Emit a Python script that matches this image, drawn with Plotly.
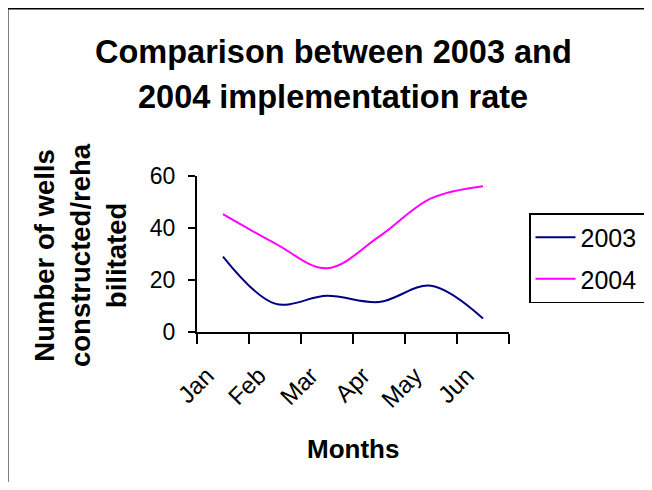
import plotly.graph_objects as go

months = ["Jan", "Feb", "Mar", "Apr", "May", "Jun"]
values_2003 = [29, 10.9, 13.9, 11.5, 17.8, 5.2]
values_2004 = [45.3, 34.1, 24.5, 36.7, 51.4, 56.1]
y_ticks = [0, 20, 40, 60]

W, H = 644, 474
OFF = 8  # page body margin
L, R, T, B = 197 - OFF, 509 - OFF, 176 - OFF, 332 - OFF  # plot area in figure px
pw, ph = R - L, B - T

def px_x(x):
    return (x - OFF - L) / pw

def px_y(y):
    return (B - (y - OFF)) / ph

FONT = "Liberation Sans, Arial, sans-serif"

fig = go.Figure()
fig.add_trace(go.Scatter(x=months, y=values_2003, name="2003\u00a0", mode="lines",
                         line=dict(color="#000080", width=2, shape="spline", smoothing=1),
                         legendgroup="a"))
fig.add_trace(go.Scatter(x=months, y=values_2004, name="2004\u00a0", mode="lines",
                         line=dict(color="#FF00FF", width=2, shape="spline", smoothing=1),
                         legendgroup="b"))

fig.update_layout(
    width=W, height=H,
    margin=dict(l=L, r=W - R, t=T, b=H - B, autoexpand=False),
    paper_bgcolor="white", plot_bgcolor="white",
    font=dict(family=FONT, color="black"),
    showlegend=True,
    legend=dict(x=px_x(529), y=px_y(213), xanchor="left", yanchor="top",
                bordercolor="black", borderwidth=1.5, bgcolor="white",
                font=dict(size=25, family=FONT, color="black"),
                tracegroupgap=6, traceorder="grouped", itemwidth=40),
    xaxis=dict(type="category", range=[-0.5, 5.5], showline=True, linecolor="black",
               linewidth=2, ticks="outside", tickson="boundaries", ticklen=10,
               tickwidth=2, tickcolor="black", tickangle=-45, showgrid=False,
               zeroline=False, ticklabelshift=-16, ticklabelstandoff=18,
               tickfont=dict(size=24, family=FONT, color="black")),
    yaxis=dict(range=[0, 60], tickvals=y_ticks, showline=True, linecolor="black",
               linewidth=2, ticks="outside", ticklen=7, tickwidth=2, tickcolor="black",
               showgrid=False, zeroline=False, ticklabelstandoff=8,
               tickfont=dict(size=23, family=FONT, color="black")),
    annotations=[
        dict(text="<b>Comparison between 2003 and</b>", xref="paper", yref="paper",
             x=px_x(333), y=px_y(52), xanchor="center", yanchor="middle",
             showarrow=False, font=dict(size=32.5, family=FONT, color="black")),
        dict(text="<b>2004 implementation rate</b>", xref="paper", yref="paper",
             x=px_x(333), y=px_y(97), xanchor="center", yanchor="middle",
             showarrow=False, font=dict(size=32.5, family=FONT, color="black")),
        dict(text="<b>Number of wells<br>constructed/reha<br>bilitated</b>",
             xref="paper", yref="paper", x=px_x(80), y=px_y(255),
             xanchor="center", yanchor="middle", textangle=-90, showarrow=False,
             font=dict(size=27.5, family=FONT, color="black")),
        dict(text="<b>Months</b>", xref="paper", yref="paper", x=px_x(353), y=px_y(449),
             xanchor="center", yanchor="middle", showarrow=False,
             font=dict(size=26, family=FONT, color="black")),
    ],
    shapes=[
        dict(type="line", xref="paper", yref="paper", x0=px_x(7), x1=px_x(700),
             y0=px_y(8), y1=px_y(8), line=dict(color="black", width=3)),
        dict(type="line", xref="paper", yref="paper", x0=px_x(7), x1=px_x(7),
             y0=px_y(8), y1=px_y(600), line=dict(color="black", width=3)),
    ],
)

fig.write_html("out.html")
